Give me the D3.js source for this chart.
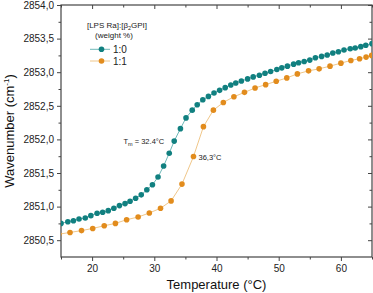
<!DOCTYPE html>
<html lang="en">
<head>
<meta charset="UTF-8">
<title>Wavenumber vs temperature</title>
<script src="https://cdn.jsdelivr.net/npm/d3@7"></script>
<style>
  body { margin: 0; background: #fff; }
  svg { display: block; font-family: "Liberation Sans", Arial, sans-serif; }
</style>
</head>
<body>
<div id="chart"></div>
<script>
// series 1:0
const temp10 = [15.0, 16.1, 17.0, 17.9, 18.9, 19.8, 20.8, 21.7, 22.6, 23.5, 24.4, 25.3, 26.1, 27.0, 27.9, 28.8, 29.7, 30.6, 31.5, 32.4,
  33.2, 34.2, 35.1, 36.1, 36.9, 37.8, 38.7, 39.6, 40.5, 41.4, 42.3, 43.1, 44.0, 45.0, 45.9, 46.9, 47.8, 48.7, 49.7, 50.5,
  51.4, 52.4, 53.2, 54.1, 55.0, 55.9, 56.9, 57.8, 58.7, 59.6, 60.5, 61.5, 62.3, 63.2, 64.0, 65.0];
const wave10 = [2850.75, 2850.775, 2850.79, 2850.815, 2850.83, 2850.865, 2850.90, 2850.915, 2850.94, 2850.975, 2851.015, 2851.045,
  2851.08, 2851.125, 2851.175, 2851.25, 2851.325, 2851.44, 2851.605, 2851.795, 2851.975, 2852.16, 2852.32, 2852.435, 2852.515,
  2852.59, 2852.64, 2852.69, 2852.73, 2852.77, 2852.81, 2852.84, 2852.87, 2852.90, 2852.93, 2852.955, 2852.985, 2853.01,
  2853.04, 2853.065, 2853.09, 2853.12, 2853.14, 2853.16, 2853.18, 2853.215, 2853.235, 2853.255, 2853.285, 2853.305, 2853.33,
  2853.35, 2853.36, 2853.38, 2853.40, 2853.425];

// series 1:1
const temp11 = [14.65, 16.45, 18.3, 20.1, 21.95, 23.75, 25.55, 27.4, 29.2, 31.0, 32.7, 34.45, 36.3, 37.9, 39.5, 41.1, 42.8,
  44.5, 46.2, 47.9, 49.6, 51.3, 53.0, 54.8, 56.5, 58.25, 60.0, 61.6, 63.0, 64.05, 64.95];
const wave11 = [2850.59, 2850.615, 2850.643, 2850.675, 2850.715, 2850.75, 2850.805, 2850.845, 2850.905, 2850.975, 2851.085,
  2851.335, 2851.745, 2852.19, 2852.435, 2852.55, 2852.635, 2852.70, 2852.765, 2852.815, 2852.865, 2852.915, 2852.975,
  2853.02, 2853.05, 2853.09, 2853.135, 2853.175, 2853.20, 2853.225, 2853.25];

const xTicks = [20, 30, 40, 50, 60];
const xMinor = [15, 25, 35, 45, 55, 65];
const yTicks = [2850.5, 2851.0, 2851.5, 2852.0, 2852.5, 2853.0, 2853.5, 2854.0];
const yMinor = [2850.75, 2851.25, 2851.75, 2852.25, 2852.75, 2853.25, 2853.75];

const series = [
  {name: "1:0", t: temp10, w: wave10, color: "#118080", line: "#6fb8b8"},
  {name: "1:1", t: temp11, w: wave11, color: "#e28c1d", line: "#f0c78a"}
];

const W = 373, H = 293;
const m = {top: 5, right: 1, bottom: 36, left: 61};
const iw = W - m.left - m.right, ih = H - m.top - m.bottom;

const x = d3.scaleLinear().domain([15, 65]).range([0, iw]);
const y = d3.scaleLinear().domain([2850.25, 2854]).range([ih, 0]);
const fmt = d => d3.format(".1f")(d).replace(".", ",");

const svg = d3.select("#chart").append("svg").attr("width", W).attr("height", H);
const g = svg.append("g").attr("transform", `translate(${m.left},${m.top})`);

g.append("clipPath").attr("id", "clip").append("rect").attr("width", iw).attr("height", ih);

const axisColor = "#444";
function style(sel) {
  sel.select(".domain").remove();
  sel.selectAll("line").attr("stroke", axisColor);
  sel.selectAll("text").attr("fill", "#222").attr("font-size", 10);
}

// bottom / left: outward ticks with labels
g.append("g").attr("transform", `translate(0,${ih})`)
  .call(d3.axisBottom(x).tickValues(xTicks).tickSize(4).tickPadding(4)).call(style);
g.append("g").attr("transform", `translate(0,${ih})`)
  .call(d3.axisBottom(x).tickValues(xMinor).tickSize(2.5).tickFormat("")).call(style);
g.append("g")
  .call(d3.axisLeft(y).tickValues(yTicks).tickSize(4).tickPadding(3).tickFormat(fmt)).call(style);
g.append("g")
  .call(d3.axisLeft(y).tickValues(yMinor).tickSize(2.5).tickFormat("")).call(style);

// top / right: inward ticks
g.append("g").call(d3.axisBottom(x).tickValues(xTicks).tickSize(4).tickFormat("")).call(style);
g.append("g").call(d3.axisBottom(x).tickValues(xMinor).tickSize(2.5).tickFormat("")).call(style);
g.append("g").attr("transform", `translate(${iw},0)`)
  .call(d3.axisLeft(y).tickValues(yTicks).tickSize(4).tickFormat("")).call(style);
g.append("g").attr("transform", `translate(${iw},0)`)
  .call(d3.axisLeft(y).tickValues(yMinor).tickSize(2.5).tickFormat("")).call(style);

g.append("rect").attr("width", iw).attr("height", ih)
  .attr("fill", "none").attr("stroke", axisColor).attr("stroke-width", 1.2);

// series
const line = d3.line().x(d => x(d[0])).y(d => y(d[1]));
const plot = g.append("g").attr("clip-path", "url(#clip)");
series.forEach(s => {
  const pts = s.t.map((t, i) => [t, s.w[i]]);
  plot.append("path").datum(pts).attr("d", line)
    .attr("fill", "none").attr("stroke", s.line).attr("stroke-width", 1);
  plot.selectAll(null).data(pts).join("circle")
    .attr("cx", d => x(d[0])).attr("cy", d => y(d[1])).attr("r", 2.8)
    .attr("fill", s.color);
});

// annotations
const tm = g.append("text").attr("x", x(32.4) - 5).attr("y", y(2851.975) + 3)
  .attr("text-anchor", "end").attr("font-size", 7.5).attr("fill", "#222");
tm.append("tspan").text("T");
tm.append("tspan").attr("font-size", 5.5).attr("dy", 2).text("m");
tm.append("tspan").attr("dy", -2).text(" = 32.4°C");
g.append("text").attr("x", x(36.3) + 5).attr("y", y(2851.745) + 3)
  .attr("font-size", 7.5).attr("fill", "#222").text("36,3°C");

// legend
const lg = g.append("g").attr("transform", "translate(56,0)");
const lt = lg.append("text").attr("x", 0).attr("y", 23).attr("text-anchor", "middle")
  .attr("font-size", 8).attr("fill", "#222");
lt.append("tspan").text("[LPS Ra]:[β");
lt.append("tspan").attr("font-size", 5.5).attr("dy", 2).text("2");
lt.append("tspan").attr("dy", -2).text("GPI]");
lg.append("text").attr("x", -3).attr("y", 33).attr("text-anchor", "middle")
  .attr("font-size", 8).attr("fill", "#222").text("(weight %)");
series.forEach((s, i) => {
  const yy = 44.3 + i * 11.7;
  lg.append("line").attr("x1", -27).attr("x2", -7).attr("y1", yy).attr("y2", yy)
    .attr("stroke", s.line).attr("stroke-width", 1);
  lg.append("circle").attr("cx", -15.5).attr("cy", yy).attr("r", 2.8).attr("fill", s.color);
  lg.append("text").attr("x", -4).attr("y", yy + 3.5).attr("font-size", 10)
    .attr("fill", "#222").text(s.name);
});

// axis titles
svg.append("text").attr("x", m.left + iw / 2).attr("y", 289).attr("text-anchor", "middle")
  .attr("font-size", 13).attr("fill", "#111").text("Temperature (°C)");
const yt = svg.append("text").attr("transform", `translate(14,${m.top + ih / 2}) rotate(-90)`)
  .attr("text-anchor", "middle").attr("font-size", 13).attr("fill", "#111");
yt.append("tspan").text("Wavenumber (cm");
yt.append("tspan").attr("font-size", 8).attr("dy", -5).text("-1");
yt.append("tspan").attr("dy", 5).text(")");
</script>
</body>
</html>
